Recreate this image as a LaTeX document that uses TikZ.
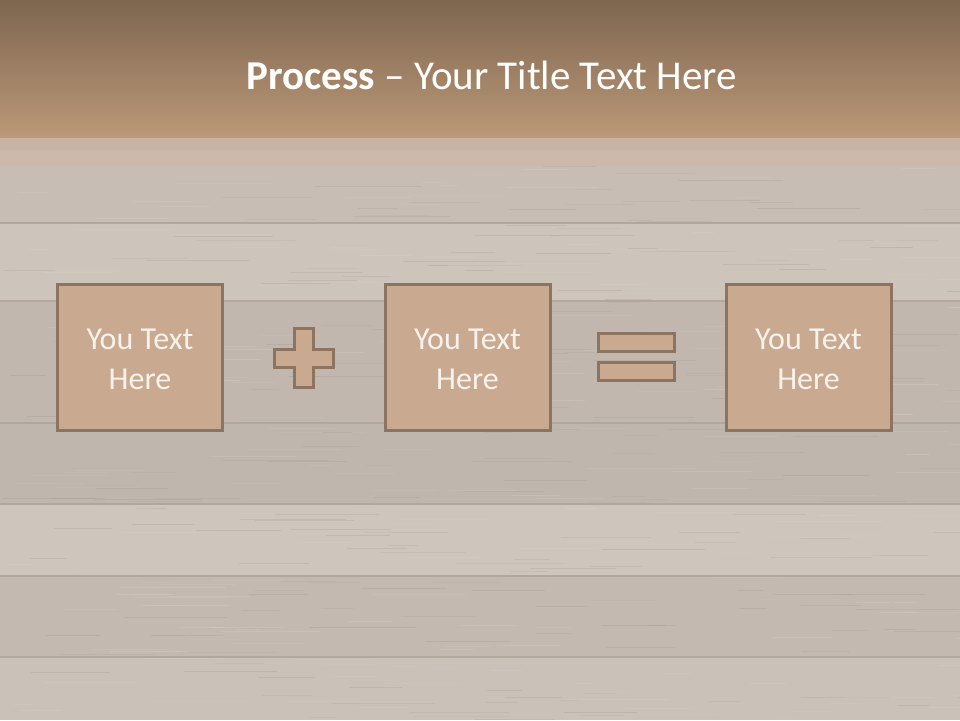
\documentclass[tikz,border=0pt]{standalone}
\usepackage{fontspec}
\setmainfont{Carlito}
\definecolor{hdrtop}{HTML}{7E6650}
\definecolor{hdrbot}{HTML}{BB9877}
\definecolor{bandc}{HTML}{C9B3A3}
\definecolor{woodbg}{HTML}{C7BDB4}
\definecolor{seam}{HTML}{B2A79D}
\definecolor{boxfill}{HTML}{C9A98F}
\definecolor{boxline}{HTML}{8C7461}
\definecolor{boxtext}{HTML}{F8F2EC}
\definecolor{streakdark}{HTML}{9E9288}
\definecolor{streaklight}{HTML}{DDD5CE}
\tikzset{
  box/.style={draw=boxline, line width=3pt, fill=boxfill, minimum width=165pt, minimum height=146pt,
    inner sep=0pt},
  boxlabel/.style={text=boxtext, align=center, inner sep=0pt, font=\fontsize{32}{40}\selectfont},
  sym/.style={draw=boxline, line width=3pt, fill=boxfill},
  seamline/.style={draw=seam, line width=2pt},
}
\begin{document}
\begin{tikzpicture}[x=1pt,y=-1pt]
\useasboundingbox (0,0) rectangle (960,720);
% wood background
\fill[woodbg] (0,137) rectangle (960,720);
\fill[white!10!woodbg] (0,223) rectangle (960,301);
\fill[black!3!woodbg] (0,301) rectangle (960,423);
\fill[black!4!woodbg] (0,423) rectangle (960,504);
\fill[white!12!woodbg] (0,504) rectangle (960,576);
\fill[black!2!woodbg] (0,576) rectangle (960,657);
\fill[white!6!woodbg] (0,657) rectangle (960,720);
% texture streaks
\pgfmathsetseed{7}
\foreach \i in {1,...,420}{
  \pgfmathsetmacro{\sx}{rnd*960}
  \pgfmathsetmacro{\sy}{165+rnd*555}
  \pgfmathsetmacro{\sl}{20+rnd*90}
  \pgfmathsetmacro{\op}{0.10+rnd*0.18}
  \ifodd\i
    \draw[streakdark, line width=0.8pt, opacity=\op] (\sx,\sy) -- ++(\sl,0);
  \else
    \draw[streaklight, line width=1pt, opacity=\op] (\sx,\sy) -- ++(\sl,0);
  \fi
}
% seams
\foreach \yy in {223,301,423,504,576,657}{
  \draw[seamline] (0,\yy) -- (960,\yy);
}
% band under header
\fill[bandc] (0,137) rectangle (960,166);
\fill[white!15!bandc, opacity=0.6] (0,150) rectangle (960,166);
% header
\shade[top color=hdrtop, bottom color=hdrbot] (0,0) rectangle (960,137);
\node[text=white, font=\fontsize{41}{48}\selectfont] (title) at (492,75)
  {\textbf{Process} -- Your Title Text Here};
% boxes
\node[box] (b1) at (140,357.5) {};
\node[box] (b2) at (467.5,357.5) {};
\node[box] (b3) at (808.5,357.5) {};
\node[boxlabel] (t1) at ([yshift=-2pt]b1.center) {You Text\\Here};
\node[boxlabel] (t2) at ([yshift=-2pt]b2.center) {You Text\\Here};
\node[boxlabel] (t3) at ([yshift=-2pt]b3.center) {You Text\\Here};
% plus
\draw[sym] (294.5,328.5) -- (313.5,328.5) -- (313.5,349.5) -- (333.5,349.5) -- (333.5,367.5)
  -- (313.5,367.5) -- (313.5,387.5) -- (294.5,387.5) -- (294.5,367.5) -- (274.5,367.5)
  -- (274.5,349.5) -- (294.5,349.5) -- cycle;
% equals
\draw[sym] (598.5,333.5) rectangle (674.5,351.5);
\draw[sym] (598.5,362.5) rectangle (674.5,380.5);
\end{tikzpicture}
\end{document}
